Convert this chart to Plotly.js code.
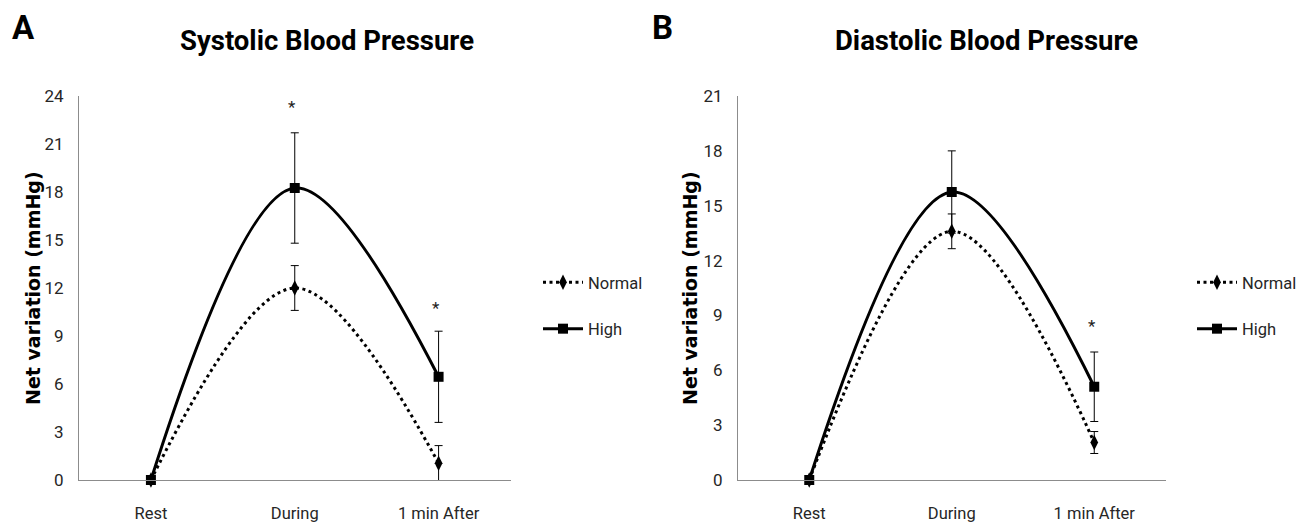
<!DOCTYPE html>
<html>
<head>
<meta charset="utf-8">
<script src="https://cdn.plot.ly/plotly-3.0.1.min.js"></script>
<style>html,body{margin:0;padding:0;background:#fff;}#chart{width:1306px;height:527px;}</style>
</head>
<body>
<div id="chart"></div>
<script>
// ---- data ----
const categories = ['Rest', 'During', '1 min After'];
const seriesNames = ['Normal', 'High'];

const sbpNormal    = [0, 12.0, 1.05];
const sbpNormalErr = [0, 1.4, 1.1];
const sbpHigh      = [0, 18.25, 6.45];
const sbpHighErr   = [0, 3.45, 2.85];

const dbpNormal    = [0, 13.6, 2.05];
const dbpNormalErr = [0, 0.95, 0.6];
const dbpHigh      = [0, 15.75, 5.1];
const dbpHighErr   = [0, 2.25, 1.9];

const sbpSigCats = ['During', '1 min After'];
const sbpSigY    = [23.4, 10.8];
const dbpSigCats = ['1 min After'];
const dbpSigY    = [8.5];

const panelTitles = ['Systolic Blood Pressure', 'Diastolic Blood Pressure'];
const panelLetters = ['A', 'B'];
const yTitle = 'Net variation (mmHg)';
const sbpRange = [0, 24];
const dbpRange = [0, 21];
const yStep = 3;

// ---- styling ----
const W = 1306, H = 527;
const FONT = 'Roboto, Liberation Sans, Arial, sans-serif';
const px = v => v / W;
const py = v => (H - v) / H;

function mkTrace(name, y, err, xa, ya, legend, isHigh) {
  return {
    type: 'scatter', mode: 'lines+markers', name: name,
    x: categories, y: y, xaxis: xa, yaxis: ya, legend: legend,
    legendgroup: legend + name,
    cliponaxis: false,
    line: isHigh ? {color: '#000', width: 3, shape: 'spline', smoothing: 1}
                 : {color: '#000', width: 3, shape: 'spline', smoothing: 1, dash: '3px,3.5px'},
    marker: isHigh ? {symbol: 'square', size: 10, color: '#000'}
                   : {symbol: 'diamond-tall', size: 11, color: '#000'},
    error_y: {type: 'data', array: err, visible: true, color: '#000', thickness: 1, width: 4}
  };
}

const data = [
  mkTrace(seriesNames[0], sbpNormal, sbpNormalErr, 'x', 'y', 'legend', false),
  mkTrace(seriesNames[1], sbpHigh, sbpHighErr, 'x', 'y', 'legend', true),
  mkTrace(seriesNames[0], dbpNormal, dbpNormalErr, 'x2', 'y2', 'legend2', false),
  mkTrace(seriesNames[1], dbpHigh, dbpHighErr, 'x2', 'y2', 'legend2', true)
];

const tickFont = {family: FONT, size: 16.5, color: '#262626'};
const axisLine = '#8c8c8c';

function xAx(domain, anchor) {
  return {domain: domain, anchor: anchor, type: 'category', range: [-0.5, 2.5],
    showline: true, linecolor: axisLine, linewidth: 1, showgrid: false, zeroline: false,
    ticks: '', tickfont: tickFont, ticklabelstandoff: 18, fixedrange: true};
}
function yAx(domain, anchor, range) {
  return {domain: domain, anchor: anchor, range: range, tick0: 0, dtick: yStep,
    showline: true, linecolor: axisLine, linewidth: 1, showgrid: false, zeroline: false,
    ticks: '', tickfont: {family: FONT, size: 17, color: '#262626'}, ticklabelstandoff: 11, fixedrange: true};
}

const yDom = [47 / H, 431 / H];

const annotations = [];
function addText(text, x, y, size, fam, angle) {
  annotations.push({xref: 'paper', yref: 'paper', x: px(x), y: py(y), text: text,
    showarrow: false, xanchor: 'center', yanchor: 'middle', textangle: angle || 0,
    font: {family: fam, size: size, color: '#000', weight: 700}});
}
addText(panelLetters[0], 23, 27, 33, FONT);
addText(panelLetters[1], 662, 27, 33, FONT);
addText(panelTitles[0], 326.5, 40, 27.5, FONT);
addText(panelTitles[1], 986, 40, 27.5, FONT);
addText(yTitle, 33, 288, 19, 'DejaVu Sans, sans-serif', -90);
addText(yTitle, 690, 288, 19, 'DejaVu Sans, sans-serif', -90);

sbpSigCats.forEach((c, i) => annotations.push({xref: 'x', yref: 'y', x: c, y: sbpSigY[i], text: '*',
  showarrow: false, xshift: -3, yshift: -1, font: {family: FONT, size: 17, color: '#222'}}));
dbpSigCats.forEach((c, i) => annotations.push({xref: 'x2', yref: 'y2', x: c, y: dbpSigY[i], text: '*',
  showarrow: false, xshift: -2, yshift: -1, font: {family: FONT, size: 17, color: '#222'}}));

const legendStyle = (x) => ({x: px(x), y: py(265), xanchor: 'left', yanchor: 'top',
  xref: 'paper', yref: 'paper', font: {family: FONT, size: 16.5, color: '#262626'},
  bgcolor: 'rgba(0,0,0,0)', borderwidth: 0, itemwidth: 40, tracegroupgap: 22, traceorder: 'grouped'});

const layout = {
  width: W, height: H,
  margin: {l: 0, r: 0, t: 0, b: 0},
  paper_bgcolor: '#fff', plot_bgcolor: '#fff',
  showlegend: true,
  xaxis: xAx([79 / W, 510.5 / W], 'y'),
  yaxis: yAx(yDom, 'x', sbpRange),
  xaxis2: xAx([738 / W, 1165.5 / W], 'y2'),
  yaxis2: yAx(yDom, 'x2', dbpRange),
  legend: legendStyle(538),
  legend2: legendStyle(1192),
  annotations: annotations,
  hovermode: false
};

Plotly.newPlot('chart', data, layout, {displayModeBar: false, staticPlot: true});
</script>
</body>
</html>
